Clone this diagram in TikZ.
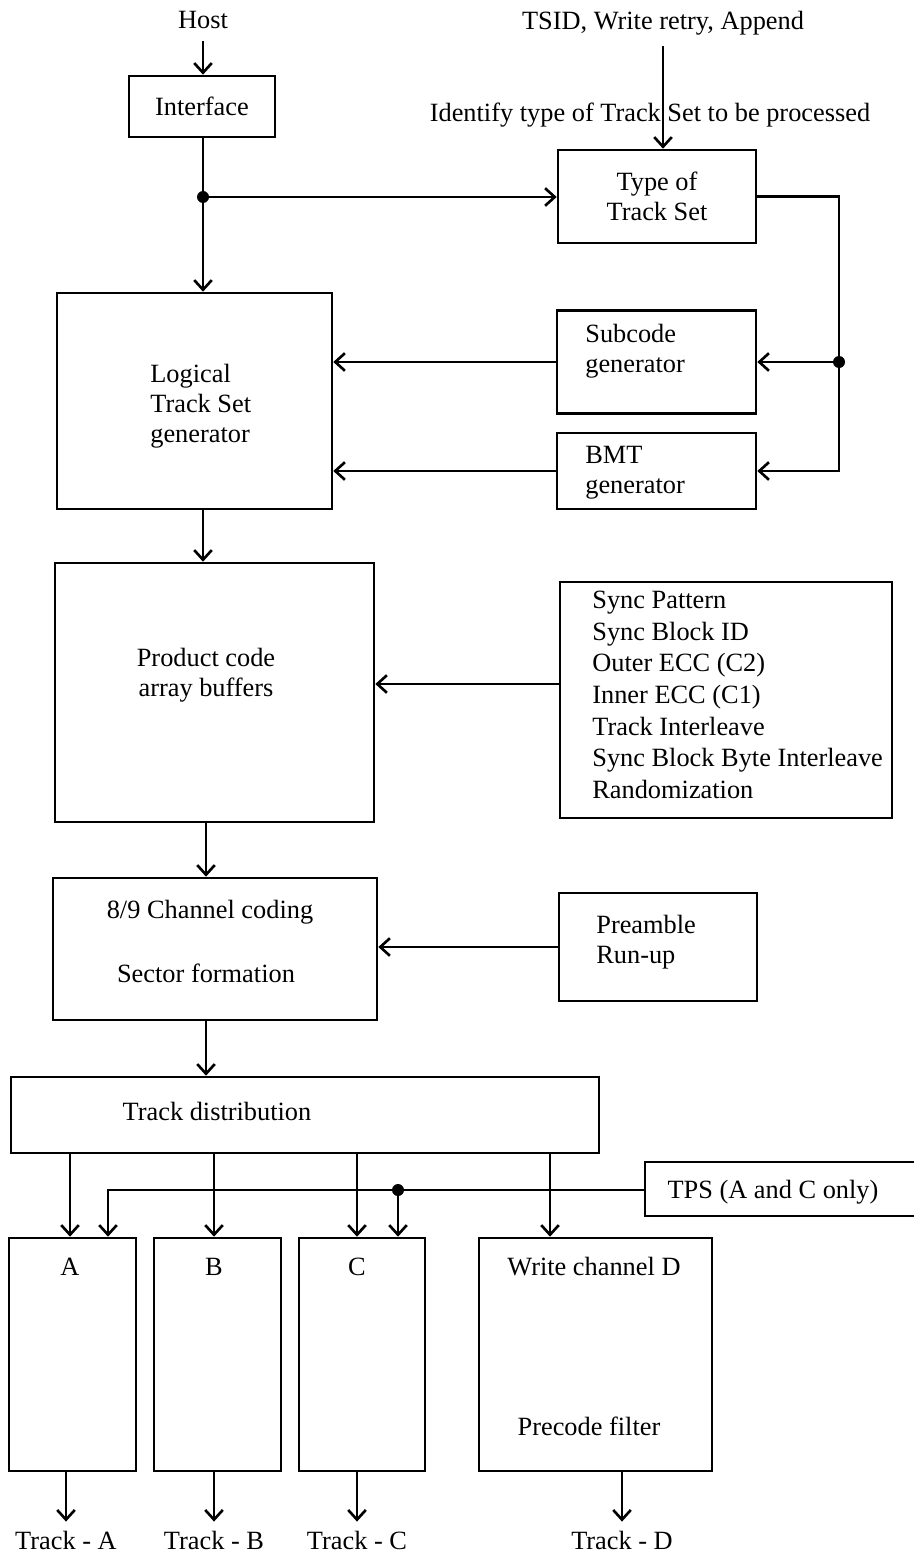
\documentclass[tikz,border=0pt]{standalone}
\usepackage{fontspec}
\setmainfont{Liberation Serif}
\usetikzlibrary{arrows.meta}

\begin{document}
\begin{tikzpicture}[x=0.02cm, y=-0.02cm, >={Straight Barb[length=5.5pt,width=10pt]},
  font=\fontsize{15}{17}\selectfont,
  blk/.style={draw, line width=1.5pt, inner sep=0pt},
  txt/.style={inner sep=0pt, align=left},
  wire/.style={line width=1.5pt}]
\useasboundingbox (0,0) rectangle (913,1554);
% inputs
\node[txt] (host) at (203,20) {Host};
\node[txt] (tsid) at (663,23) {TSID, Write retry, Append};
\node[txt] (ident) at (650,115) {Identify type of Track Set to be processed};
% upper blocks
\node[blk, minimum width=2.92cm, minimum height=1.22cm] (iface) at (202,106.5) {Interface};
\node[blk, minimum width=3.96cm, minimum height=1.86cm, align=center] (tset) at (657,196.5) {Type of\\Track Set};
\node[blk, minimum width=5.5cm, minimum height=4.32cm] (logic) at (194.5,401) {};
\node[txt, anchor=west] (logictxt) at (150,406) {Logical\\Track Set\\generator};
\node[blk, minimum width=3.98cm, minimum height=2.06cm] (subc) at (656.5,362) {};
\node[txt, anchor=west] (subctxt) at (585,351) {Subcode\\generator};
\node[blk, minimum width=3.98cm, minimum height=1.52cm] (bmt) at (656.5,471) {};
\node[txt, anchor=west] (bmttxt) at (585,473) {BMT\\generator};
% product code
\node[blk, minimum width=6.38cm, minimum height=5.18cm] (prod) at (214.5,692.5) {};
\node[txt, align=center] (prodtxt) at (206,675) {Product code\\array buffers};
\node[blk, minimum width=6.64cm, minimum height=4.72cm] (list) at (726,700) {};
\node[txt, anchor=west] (listtxt) at (592,695) {Sync Pattern\\[1pt]Sync Block ID\\[1pt]Outer ECC (C2)\\[1pt]Inner ECC (C1)\\[1pt]Track Interleave\\[1pt]Sync Block Byte Interleave\\[1pt]Randomization};
% channel coding
\node[blk, minimum width=6.48cm, minimum height=2.84cm] (chan) at (215,949) {};
\node[txt] (chantxt) at (210,912) {8/9 Channel coding};
\node[txt] (sectxt) at (206,973) {Sector formation};
\node[blk, minimum width=3.96cm, minimum height=2.16cm] (pre) at (658,947) {};
\node[txt, anchor=west] (pretxt) at (596,942) {Preamble\\Run-up};
% distribution
\node[blk, minimum width=11.76cm, minimum height=1.52cm] (dist) at (305,1115) {};
\node[txt] (disttxt) at (217,1111) {Track distribution};
\node[blk, minimum width=5.5cm, minimum height=1.08cm] (tps) at (782.5,1189) {};
\node[txt] (tpstxt) at (773,1192) {TPS (A and C only)};
% write channels
\node[blk, minimum width=2.54cm, minimum height=4.66cm] (boxA) at (72.5,1354.5) {};
\node[blk, minimum width=2.54cm, minimum height=4.66cm] (boxB) at (217.5,1354.5) {};
\node[blk, minimum width=2.52cm, minimum height=4.66cm] (boxC) at (362,1354.5) {};
\node[blk, minimum width=4.66cm, minimum height=4.66cm] (boxD) at (595.5,1354.5) {};
\node[txt] (ta) at (70,1267) {A};
\node[txt] (tb) at (214,1267) {B};
\node[txt] (tc) at (357,1267) {C};
\node[txt] (td) at (594,1267) {Write channel D};
\node[txt] (pf) at (589,1426) {Precode filter};
% outputs
\node[txt] (outA) at (66,1540) {Track - A};
\node[txt] (outB) at (214,1540) {Track - B};
\node[txt] (outC) at (357,1540) {Track - C};
\node[txt] (outD) at (622,1540) {Track - D};
% junctions
\coordinate (j1) at (203,197);
\coordinate (j2) at (839,362);
\coordinate (col) at (206,0);
\coordinate (dIn) at (550,0);
\coordinate (tpsA) at (108,1190);
\coordinate (tpsC) at (398,1190);
% connectors, top
\draw[wire, ->, shorten <=7pt] (host.south) -- (host.south |- iface.north);
\draw[wire] (iface.south -| j1) -- (j1);
\draw[wire, ->] (j1) -- (j1 |- logic.north);
\draw[wire, ->] (j1) -- (j1 -| tset.west);
\fill (j1) circle (6);
\draw[wire, ->, shorten <=6pt] (tsid.south) -- (tsid.south |- tset.north);
\draw[wire, ->] (tset.east) -| (j2) |- (bmt.east);
\draw[wire, ->] (j2) -- (j2 -| subc.east);
\fill (j2) circle (6);
\draw[wire, ->] (subc.west) -- (subc.west -| logic.east);
\draw[wire, ->] (bmt.west) -- (bmt.west -| logic.east);
% connectors, middle
\draw[wire, ->] (logic.south -| j1) -- (prod.north -| j1);
\draw[wire, ->] ([yshift=0.32cm]list.west) -- ([yshift=0.32cm]list.west -| prod.east);
\draw[wire, ->] (prod.south -| col) -- (chan.north -| col);
\draw[wire, ->] (pre.west) -- (pre.west -| chan.east);
\draw[wire, ->] (chan.south -| col) -- (dist.north -| col);
% connectors, bottom
\foreach \t/\b in {ta/boxA, tb/boxB, tc/boxC}
  \draw[wire, ->] (dist.south -| \t) -- (\b.north -| \t);
\draw[wire, ->] (dist.south -| dIn) -- (boxD.north -| dIn);
\draw[wire, ->] (tps.west |- tpsA) -- (tpsA) -- (tpsA |- boxA.north);
\draw[wire, ->] (tpsC) -- (tpsC |- boxC.north);
\fill (tpsC) circle (6);
\foreach \b/\o in {boxA/outA, boxB/outB, boxC/outC, boxD/outD}
  \draw[wire, ->, shorten >=5pt] (\b.south -| \o) -- (\o.north);
\end{tikzpicture}
\end{document}
